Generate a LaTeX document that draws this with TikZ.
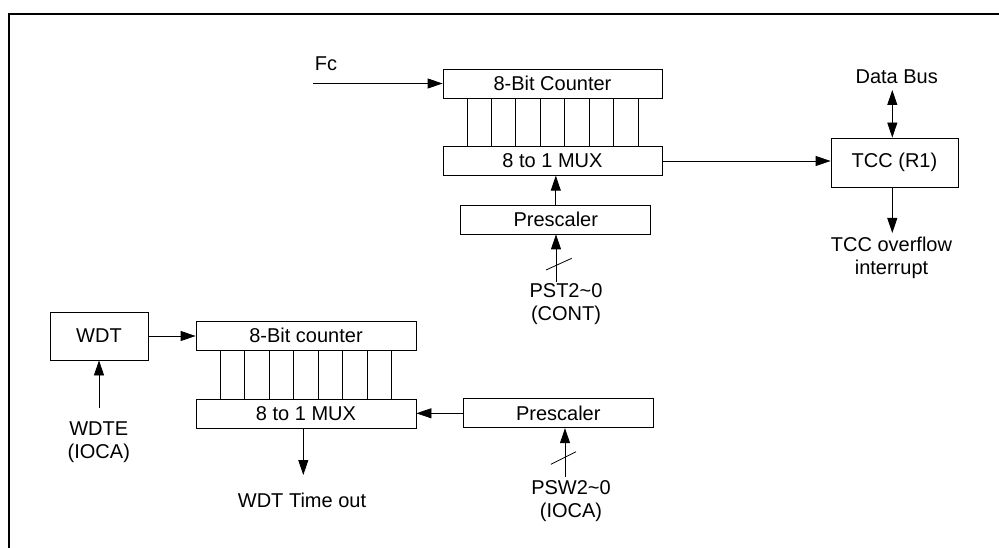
\documentclass[tikz,border=0pt]{standalone}
\usepackage{fontspec}
\setmainfont{Liberation Sans}
\usetikzlibrary{arrows.meta,calc}
\begin{document}
\begin{tikzpicture}[x=1pt,y=-1pt,
  every node/.style={font=\fontsize{20}{23}\selectfont, inner sep=0pt},
  blk/.style={draw, line width=0.8pt, fill=white},
  conn/.style={line width=0.8pt},
  arr/.style={conn, -{Triangle[length=15pt,width=10pt]}},
  darr/.style={conn, {Triangle[length=15pt,width=10pt]}-{Triangle[length=15pt,width=10pt]}},
  lbl/.style={align=center}
]
\useasboundingbox (0,0) rectangle (999,548);
% frame
\draw[line width=2pt] (8.5,560) -- (8.5,14) -- (1010,14);

% top section
\node[blk, minimum width=219pt, minimum height=29pt] (cnt1) at (552.5,83.5) {8-Bit Counter};
\node[blk, minimum width=219pt, minimum height=28.5pt] (mux1) at (552.5,161) {8 to 1 MUX};
\node[blk, minimum width=190pt, minimum height=29pt] (pre1) at (555.8,219.5) {Prescaler};
\node[blk, minimum width=127pt, minimum height=49pt] (tcc) at (894.5,162.5) {TCC (R1)};

\foreach \k in {1,...,8}{
  \draw[conn] ($(cnt1.south west)!\k/9!(cnt1.south east)$) -- ($(mux1.north west)!\k/9!(mux1.north east)$);
}

\node (fc) at (326,64) {Fc};
\coordinate (fcin) at (313,83.5);
\draw[arr] (fcin) -- (cnt1.west);

\draw[arr] (mux1.east) -- (mux1.east -| tcc.west);

\node (db) at (896.7,77) {Data Bus};
\coordinate (dbend) at (892.3,90);
\draw[darr] (dbend) -- (dbend |- tcc.north);

\coordinate (ovf) at (892.3,233);
\draw[arr] (ovf |- tcc.south) -- (ovf);
\node[lbl] (ovftxt) at (891.5,258) {TCC overflow\\interrupt};

\draw[arr] (pre1.north) -- (pre1.north |- mux1.south);
\coordinate (pstin) at (556,281.7);
\draw[arr] (pstin) -- (pstin |- pre1.south);
\coordinate (sl1a) at (546,270);
\coordinate (sl1b) at (571.7,258.3);
\draw[conn] (sl1a) -- (sl1b);
\node[lbl] (pst) at (566,304.5) {PST2\textasciitilde0\\(CONT)};

% bottom section
\node[blk, minimum width=98pt, minimum height=48pt] (wdt) at (99,336) {WDT};
\node[blk, minimum width=220pt, minimum height=29pt] (cnt2) at (306,335.5) {8-Bit counter};
\node[blk, minimum width=220pt, minimum height=29pt] (mux2) at (306,413.5) {8 to 1 MUX};
\node[blk, minimum width=190pt, minimum height=29pt] (pre2) at (558.3,413.3) {Prescaler};

\foreach \k in {1,...,8}{
  \draw[conn] ($(cnt2.south west)!\k/9!(cnt2.south east)$) -- ($(mux2.north west)!\k/9!(mux2.north east)$);
}

\draw[arr] (wdt.east) -- (wdt.east -| cnt2.west);
\coordinate (wdtein) at (99,408);
\draw[arr] (wdtein) -- (wdtein |- wdt.south);
\node[lbl] (wdte) at (98.8,442.5) {WDTE\\(IOCA)};

\draw[arr] (pre2.west) -- (pre2.west -| mux2.east);

\coordinate (wto) at (303.3,475);
\draw[arr] (wto |- mux2.south) -- (wto);
\node (wtotxt) at (302,500) {WDT Time out};

\coordinate (pswin) at (565,476.7);
\draw[arr] (pswin) -- (pswin |- pre2.south);
\coordinate (sl2a) at (551,464.3);
\coordinate (sl2b) at (576,451.7);
\draw[conn] (sl2a) -- (sl2b);
\node[lbl] (psw) at (571,501.5) {PSW2\textasciitilde0\\(IOCA)};
\end{tikzpicture}
\end{document}
